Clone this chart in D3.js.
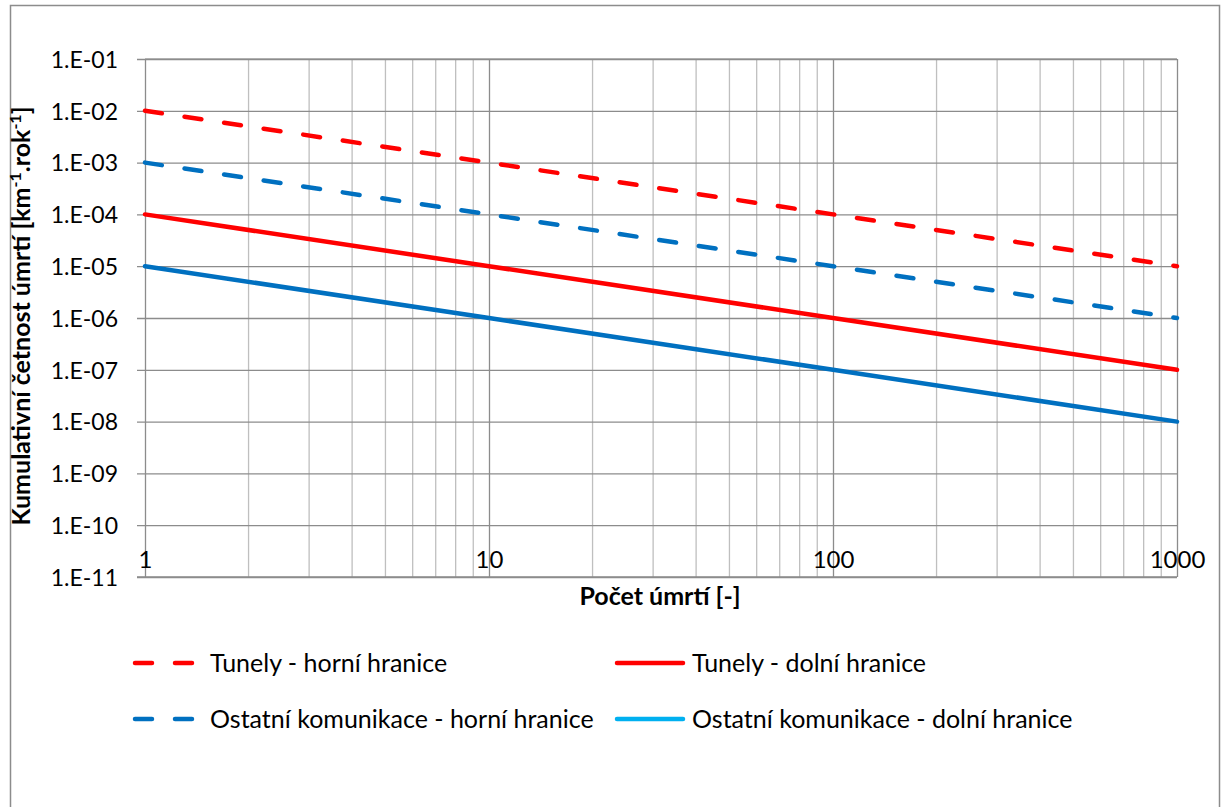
<!DOCTYPE html>
<html>
<head>
<meta charset="utf-8">
<script src="https://cdn.jsdelivr.net/npm/d3@7"></script>
<style>
  html, body { margin: 0; padding: 0; background: #fff; }
  svg { display: block; }
  text { font-family: Lato, "Noto Sans", sans-serif; fill: #000; }
</style>
</head>
<body>
<svg id="chart" width="1226" height="807"></svg>
<script>
// Počty úmrtí (osa x) a kumulativní četnosti pro jednotlivé řady
const pocetUmrti = [1, 10, 100, 1000];
const tunelyHorni = [1e-2, 1e-3, 1e-4, 1e-5];
const tunelyDolni = [1e-4, 1e-5, 1e-6, 1e-7];
const ostatniHorni = [1e-3, 1e-4, 1e-5, 1e-6];
const ostatniDolni = [1e-5, 1e-6, 1e-7, 1e-8];

const seriesNames = [
  "Tunely - horní hranice",
  "Tunely - dolní hranice",
  "Ostatní komunikace - horní hranice",
  "Ostatní komunikace - dolní hranice"
];
const seriesValues = [tunelyHorni, tunelyDolni, ostatniHorni, ostatniDolni];
const lineColors = ["#FF0000", "#FF0000", "#0070C0", "#0070C0"];
const legendColors = ["#FF0000", "#FF0000", "#0070C0", "#00B0F0"];
const dashed = [true, false, true, false];

const yTickValues = [1e-1, 1e-2, 1e-3, 1e-4, 1e-5, 1e-6, 1e-7, 1e-8, 1e-9, 1e-10, 1e-11];
const yTickLabels = ["1.E-01", "1.E-02", "1.E-03", "1.E-04", "1.E-05", "1.E-06",
                     "1.E-07", "1.E-08", "1.E-09", "1.E-10", "1.E-11"];
const xTickValues = [1, 10, 100, 1000];
const xTickLabels = ["1", "10", "100", "1000"];

const svg = d3.select("#chart");

// outer chart frame (bottom edge lies below the visible area)
svg.append("rect")
  .attr("x", 10.5).attr("y", 5.5)
  .attr("width", 1209).attr("height", 820)
  .attr("fill", "#fff").attr("stroke", "#8c8c8c").attr("stroke-width", 1.5);

const plot = { left: 145, right: 1177, top: 59, bottom: 577 };

const x = d3.scaleLog().domain([1, 1000]).range([plot.left, plot.right]);
const y = d3.scaleLog().domain([1e-11, 1e-1]).range([plot.bottom, plot.top]);

const g = svg.append("g");

// minor vertical gridlines (2..9 within each decade)
const minorX = [];
for (let d = 1; d < 1000; d *= 10) {
  for (let k = 2; k <= 9; k++) minorX.push(d * k);
}
g.append("g").selectAll("line").data(minorX).join("line")
  .attr("x1", d => x(d)).attr("x2", d => x(d))
  .attr("y1", plot.top).attr("y2", plot.bottom)
  .attr("stroke", "#bfbfbf").attr("stroke-width", 1.3);

// top frame of the plot area
g.append("line")
  .attr("x1", plot.left).attr("x2", plot.right)
  .attr("y1", plot.top).attr("y2", plot.top)
  .attr("stroke", "#a6a6a6").attr("stroke-width", 1.3);

// y axis with gridlines extending across the plot
const yAxis = d3.axisLeft(y)
  .tickValues(yTickValues)
  .tickFormat((d, i) => yTickLabels[i])
  .tickSize(-(plot.right - plot.left))
  .tickPadding(0);
const yg = g.append("g").attr("transform", `translate(${plot.left},0)`).call(yAxis);
yg.select(".domain").remove();
yg.selectAll(".tick line")
  .attr("x1", -8)
  .attr("stroke", "#8c8c8c").attr("stroke-width", 1.3);
yg.selectAll(".tick text")
  .attr("x", -27).attr("dy", "0.36em")
  .style("font-size", "23px").style("font-family", "Lato, sans-serif")
  .attr("fill", "#000");

// x axis: major vertical gridlines, labels sit inside the lowest decade
const xAxis = d3.axisBottom(x)
  .tickValues(xTickValues)
  .tickFormat((d, i) => xTickLabels[i])
  .tickSize(-(plot.bottom - plot.top))
  .tickPadding(0);
const xg = g.append("g").attr("transform", `translate(0,${plot.bottom})`).call(xAxis);
xg.select(".domain").remove();
xg.selectAll(".tick line").attr("stroke", "#8c8c8c").attr("stroke-width", 1.3);
xg.selectAll(".tick text")
  .attr("y", -9).attr("dy", 0)
  .style("font-size", "24px").style("font-family", "Lato, sans-serif")
  .attr("fill", "#000");

// bottom axis line
g.append("line")
  .attr("x1", plot.left - 8).attr("x2", plot.right)
  .attr("y1", plot.bottom).attr("y2", plot.bottom)
  .attr("stroke", "#8c8c8c").attr("stroke-width", 1.5);

// data lines
const line = d3.line()
  .x(d => x(d[0]))
  .y(d => y(d[1]));

seriesValues.forEach((vals, i) => {
  const pts = pocetUmrti.map((n, j) => [n, vals[j]]);
  g.append("path")
    .datum(pts)
    .attr("d", line)
    .attr("fill", "none")
    .attr("stroke", lineColors[i])
    .attr("stroke-width", 4.5)
    .attr("stroke-linecap", "round")
    .attr("stroke-dasharray", dashed[i] ? "17,23" : null);
});

// axis titles
svg.append("text")
  .attr("x", 660).attr("y", 605)
  .attr("text-anchor", "middle")
  .style("font-size", "25px").style("font-weight", "bold")
  .text("Počet úmrtí [-]");

const yTitle = svg.append("text")
  .attr("transform", "translate(30,316) rotate(-90)")
  .attr("text-anchor", "middle")
  .style("font-size", "25px").style("font-weight", "bold");
yTitle.append("tspan").text("Kumulativní četnost úmrtí [km");
yTitle.append("tspan").attr("baseline-shift", "super").style("font-size", "16px").text("-1");
yTitle.append("tspan").text(".rok");
yTitle.append("tspan").attr("baseline-shift", "super").style("font-size", "16px").text("-1");
yTitle.append("tspan").text("]");

// legend
const legendPos = [
  { lx: 135, ly: 663, tx: 210 },
  { lx: 617, ly: 663, tx: 692 },
  { lx: 135, ly: 719, tx: 210 },
  { lx: 617, ly: 719, tx: 692 }
];
const legend = svg.append("g");
seriesNames.forEach((name, i) => {
  const p = legendPos[i];
  legend.append("line")
    .attr("x1", p.lx).attr("x2", p.lx + 66)
    .attr("y1", p.ly).attr("y2", p.ly)
    .attr("stroke", legendColors[i])
    .attr("stroke-width", 4.5)
    .attr("stroke-linecap", "round")
    .attr("stroke-dasharray", dashed[i] ? "17,23" : null);
  legend.append("text")
    .attr("x", p.tx).attr("y", p.ly + 9)
    .style("font-size", "25px")
    .text(name);
});
</script>
</body>
</html>
